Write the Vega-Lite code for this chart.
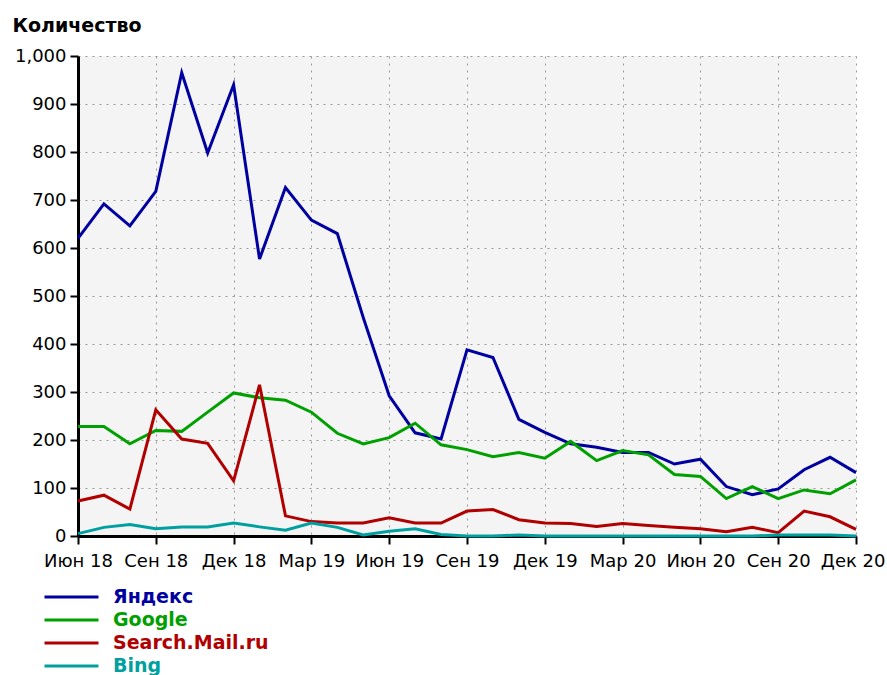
{
  "$schema": "https://vega.github.io/schema/vega-lite/v6.json",
  "autosize": "none",
  "width": 778,
  "height": 480,
  "padding": {"left": 78, "top": 56, "right": 31, "bottom": 139},
  "background": "#ffffff",
  "config": {
    "view": {"fill": "#f4f4f4", "stroke": null},
    "axis": {
      "labelFont": "DejaVu Sans",
      "labelFontSize": 18,
      "labelColor": "#000000",
      "domainColor": "#000000",
      "domainWidth": 3,
      "tickColor": "#000000",
      "tickWidth": 2,
      "tickSize": 8,
      "gridColor": "#999999",
      "gridDash": [2, 5],
      "gridWidth": 1
    }
  },
  "data": {
    "values": [
      {"m": "Июн 18", "s": "Яндекс", "v": 620}, {"m": "Июл 18", "s": "Яндекс", "v": 692}, {"m": "Авг 18", "s": "Яндекс", "v": 646}, {"m": "Сен 18", "s": "Яндекс", "v": 718}, {"m": "Окт 18", "s": "Яндекс", "v": 965}, {"m": "Ноя 18", "s": "Яндекс", "v": 798}, {"m": "Дек 18", "s": "Яндекс", "v": 940}, {"m": "Янв 19", "s": "Яндекс", "v": 577}, {"m": "Фев 19", "s": "Яндекс", "v": 726}, {"m": "Мар 19", "s": "Яндекс", "v": 658}, {"m": "Апр 19", "s": "Яндекс", "v": 630}, {"m": "Май 19", "s": "Яндекс", "v": 455}, {"m": "Июн 19", "s": "Яндекс", "v": 292}, {"m": "Июл 19", "s": "Яндекс", "v": 215}, {"m": "Авг 19", "s": "Яндекс", "v": 202}, {"m": "Сен 19", "s": "Яндекс", "v": 388}, {"m": "Окт 19", "s": "Яндекс", "v": 372}, {"m": "Ноя 19", "s": "Яндекс", "v": 243}, {"m": "Дек 19", "s": "Яндекс", "v": 216}, {"m": "Янв 20", "s": "Яндекс", "v": 192}, {"m": "Фев 20", "s": "Яндекс", "v": 185}, {"m": "Мар 20", "s": "Яндекс", "v": 174}, {"m": "Апр 20", "s": "Яндекс", "v": 174}, {"m": "Май 20", "s": "Яндекс", "v": 150}, {"m": "Июн 20", "s": "Яндекс", "v": 160}, {"m": "Июл 20", "s": "Яндекс", "v": 103}, {"m": "Авг 20", "s": "Яндекс", "v": 86}, {"m": "Сен 20", "s": "Яндекс", "v": 98}, {"m": "Окт 20", "s": "Яндекс", "v": 138}, {"m": "Ноя 20", "s": "Яндекс", "v": 164}, {"m": "Дек 20", "s": "Яндекс", "v": 132},
      {"m": "Июн 18", "s": "Google", "v": 228}, {"m": "Июл 18", "s": "Google", "v": 228}, {"m": "Авг 18", "s": "Google", "v": 192}, {"m": "Сен 18", "s": "Google", "v": 220}, {"m": "Окт 18", "s": "Google", "v": 218}, {"m": "Ноя 18", "s": "Google", "v": 258}, {"m": "Дек 18", "s": "Google", "v": 298}, {"m": "Янв 19", "s": "Google", "v": 288}, {"m": "Фев 19", "s": "Google", "v": 283}, {"m": "Мар 19", "s": "Google", "v": 258}, {"m": "Апр 19", "s": "Google", "v": 214}, {"m": "Май 19", "s": "Google", "v": 192}, {"m": "Июн 19", "s": "Google", "v": 205}, {"m": "Июл 19", "s": "Google", "v": 235}, {"m": "Авг 19", "s": "Google", "v": 190}, {"m": "Сен 19", "s": "Google", "v": 180}, {"m": "Окт 19", "s": "Google", "v": 165}, {"m": "Ноя 19", "s": "Google", "v": 174}, {"m": "Дек 19", "s": "Google", "v": 162}, {"m": "Янв 20", "s": "Google", "v": 197}, {"m": "Фев 20", "s": "Google", "v": 157}, {"m": "Мар 20", "s": "Google", "v": 178}, {"m": "Апр 20", "s": "Google", "v": 169}, {"m": "Май 20", "s": "Google", "v": 128}, {"m": "Июн 20", "s": "Google", "v": 124}, {"m": "Июл 20", "s": "Google", "v": 78}, {"m": "Авг 20", "s": "Google", "v": 103}, {"m": "Сен 20", "s": "Google", "v": 78}, {"m": "Окт 20", "s": "Google", "v": 96}, {"m": "Ноя 20", "s": "Google", "v": 88}, {"m": "Дек 20", "s": "Google", "v": 117},
      {"m": "Июн 18", "s": "Search.Mail.ru", "v": 73}, {"m": "Июл 18", "s": "Search.Mail.ru", "v": 85}, {"m": "Авг 18", "s": "Search.Mail.ru", "v": 56}, {"m": "Сен 18", "s": "Search.Mail.ru", "v": 263}, {"m": "Окт 18", "s": "Search.Mail.ru", "v": 202}, {"m": "Ноя 18", "s": "Search.Mail.ru", "v": 193}, {"m": "Дек 18", "s": "Search.Mail.ru", "v": 115}, {"m": "Янв 19", "s": "Search.Mail.ru", "v": 315}, {"m": "Фев 19", "s": "Search.Mail.ru", "v": 42}, {"m": "Мар 19", "s": "Search.Mail.ru", "v": 30}, {"m": "Апр 19", "s": "Search.Mail.ru", "v": 27}, {"m": "Май 19", "s": "Search.Mail.ru", "v": 27}, {"m": "Июн 19", "s": "Search.Mail.ru", "v": 38}, {"m": "Июл 19", "s": "Search.Mail.ru", "v": 27}, {"m": "Авг 19", "s": "Search.Mail.ru", "v": 27}, {"m": "Сен 19", "s": "Search.Mail.ru", "v": 52}, {"m": "Окт 19", "s": "Search.Mail.ru", "v": 55}, {"m": "Ноя 19", "s": "Search.Mail.ru", "v": 34}, {"m": "Дек 19", "s": "Search.Mail.ru", "v": 27}, {"m": "Янв 20", "s": "Search.Mail.ru", "v": 26}, {"m": "Фев 20", "s": "Search.Mail.ru", "v": 20}, {"m": "Мар 20", "s": "Search.Mail.ru", "v": 26}, {"m": "Апр 20", "s": "Search.Mail.ru", "v": 22}, {"m": "Май 20", "s": "Search.Mail.ru", "v": 18}, {"m": "Июн 20", "s": "Search.Mail.ru", "v": 15}, {"m": "Июл 20", "s": "Search.Mail.ru", "v": 9}, {"m": "Авг 20", "s": "Search.Mail.ru", "v": 18}, {"m": "Сен 20", "s": "Search.Mail.ru", "v": 7}, {"m": "Окт 20", "s": "Search.Mail.ru", "v": 52}, {"m": "Ноя 20", "s": "Search.Mail.ru", "v": 40}, {"m": "Дек 20", "s": "Search.Mail.ru", "v": 14},
      {"m": "Июн 18", "s": "Bing", "v": 5}, {"m": "Июл 18", "s": "Bing", "v": 18}, {"m": "Авг 18", "s": "Bing", "v": 24}, {"m": "Сен 18", "s": "Bing", "v": 15}, {"m": "Окт 18", "s": "Bing", "v": 19}, {"m": "Ноя 18", "s": "Bing", "v": 19}, {"m": "Дек 18", "s": "Bing", "v": 27}, {"m": "Янв 19", "s": "Bing", "v": 19}, {"m": "Фев 19", "s": "Bing", "v": 12}, {"m": "Мар 19", "s": "Bing", "v": 27}, {"m": "Апр 19", "s": "Bing", "v": 18}, {"m": "Май 19", "s": "Bing", "v": 2}, {"m": "Июн 19", "s": "Bing", "v": 10}, {"m": "Июл 19", "s": "Bing", "v": 15}, {"m": "Авг 19", "s": "Bing", "v": 3}, {"m": "Сен 19", "s": "Bing", "v": 0}, {"m": "Окт 19", "s": "Bing", "v": 0}, {"m": "Ноя 19", "s": "Bing", "v": 2}, {"m": "Дек 19", "s": "Bing", "v": 0}, {"m": "Янв 20", "s": "Bing", "v": 0}, {"m": "Фев 20", "s": "Bing", "v": 0}, {"m": "Мар 20", "s": "Bing", "v": 0}, {"m": "Апр 20", "s": "Bing", "v": 0}, {"m": "Май 20", "s": "Bing", "v": 0}, {"m": "Июн 20", "s": "Bing", "v": 0}, {"m": "Июл 20", "s": "Bing", "v": 0}, {"m": "Авг 20", "s": "Bing", "v": 0}, {"m": "Сен 20", "s": "Bing", "v": 2}, {"m": "Окт 20", "s": "Bing", "v": 2}, {"m": "Ноя 20", "s": "Bing", "v": 2}, {"m": "Дек 20", "s": "Bing", "v": 0}
    ]
  },
  "mark": {"type": "line", "strokeWidth": 3, "interpolate": "linear", "clip": false},
  "encoding": {
    "x": {
      "field": "m",
      "type": "ordinal",
      "sort": null,
      "scale": {"type": "point", "padding": 0},
      "axis": {
        "title": null,
        "labelAngle": 0,
        "labelPadding": 8,
        "labelAlign": {"condition": {"test": "datum.value === 'Дек 20'", "value": "right"}, "value": "center"},
        "labelOffset": {"condition": {"test": "datum.value === 'Дек 20'", "value": 29}, "value": 0},
        "grid": true,
        "values": ["Июн 18", "Сен 18", "Дек 18", "Мар 19", "Июн 19", "Сен 19", "Дек 19", "Мар 20", "Июн 20", "Сен 20", "Дек 20"]
      }
    },
    "y": {
      "field": "v",
      "type": "quantitative",
      "scale": {"domain": [0, 1000], "nice": false, "zero": true},
      "axis": {
        "values": [0, 100, 200, 300, 400, 500, 600, 700, 800, 900, 1000],
        "format": ",d",
        "labelPadding": 4,
        "title": "Количество",
        "titleAngle": 0,
        "titleAlign": "left",
        "titleAnchor": "start",
        "titleBaseline": "alphabetic",
        "titleX": -66,
        "titleY": -25,
        "titleFont": "DejaVu Sans",
        "titleFontSize": 19,
        "titleFontWeight": "bold",
        "titleColor": "#000000"
      }
    },
    "color": {
      "field": "s",
      "type": "nominal",
      "scale": {
        "domain": ["Яндекс", "Google", "Search.Mail.ru", "Bing"],
        "range": ["#0000a0", "#00a000", "#b00000", "#00a0a0"]
      },
      "legend": {
        "title": null,
        "orient": "none",
        "legendX": -35,
        "legendY": 530,
        "direction": "vertical",
        "padding": 0,
        "symbolType": "stroke",
        "symbolSize": 2916,
        "symbolStrokeWidth": 3,
        "clipHeight": 22,
        "rowPadding": 1,
        "labelOffset": 13,
        "labelFont": "DejaVu Sans",
        "labelFontSize": 19,
        "labelFontWeight": "bold",
        "labelLimit": 400,
        "encode": {
          "labels": {"update": {"fill": {"scale": "color", "field": "value"}}}
        }
      }
    }
  }
}
